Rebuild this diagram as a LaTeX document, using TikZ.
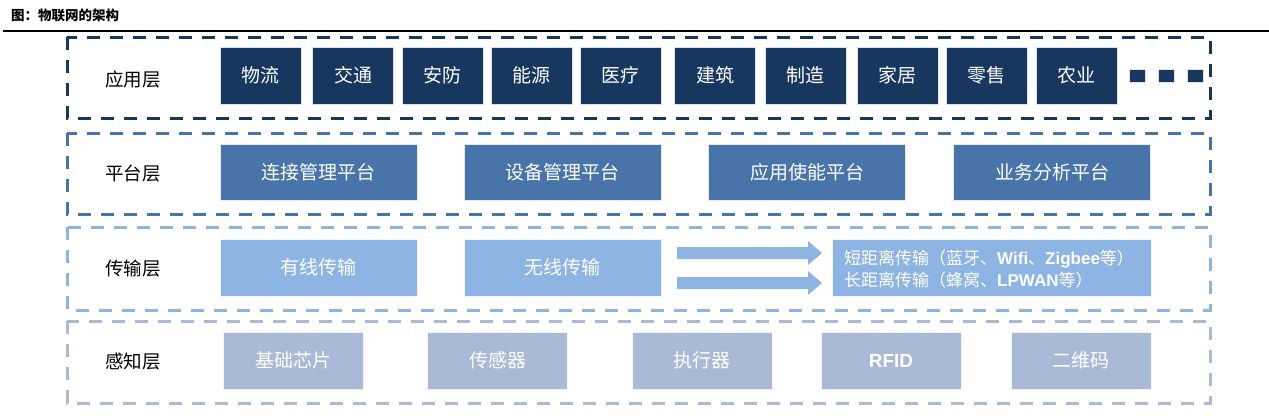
\documentclass[tikz,border=0pt]{standalone}
\usepackage{fontspec}
\setmainfont{Liberation Sans}
\newfontfamily\cjk{Noto Sans CJK SC}
\newfontfamily\lat{Liberation Sans}
\definecolor{cdark}{RGB}{23,55,94}
\definecolor{cmid}{RGB}{72,116,170}
\definecolor{clight}{RGB}{142,180,227}
\definecolor{cgray}{RGB}{169,185,214}
\tikzset{
  layerbox/.style={draw=#1, line width=3pt, dash pattern=on 13pt off 10pt},
  itembox/.style={fill=#1, draw=white!85!#1, line width=0.6pt, inner sep=0pt, text=white,
     font=\cjk\fontsize{19}{22}\selectfont},
  layerlabel/.style={font=\cjk\fontsize{18.5}{22}\selectfont, text=black, inner sep=0pt},
}
\begin{document}
\begin{tikzpicture}[x=1pt,y=-1pt]
\useasboundingbox (0,0) rectangle (1269,415);
% title
\node[anchor=west, inner sep=0pt, font=\cjk\bfseries\fontsize{13.5}{15}\selectfont] (title) at (11,15) {图：物联网的架构};
\draw[line width=2pt, black] (3,31) coordinate (ruleL) -- (1269,31) coordinate (ruleR);

% layer frames
\draw[layerbox=cdark] (67,37) rectangle (1210,118);
\draw[layerbox=cmid] (67,133) rectangle (1210,214);
\draw[layerbox=clight] (67,227) rectangle (1210,310);
\draw[layerbox=cgray] (67,321) rectangle (1210,403);

% layer labels
\node[layerlabel] (l1) at (133,79) {应用层};
\node[layerlabel] (l2) at (133,174) {平台层};
\node[layerlabel] (l3) at (133,269) {传输层};
\node[layerlabel] (l4) at (133,362) {感知层};

% application layer
\tikzset{a/.style={itembox=cdark, minimum width=81pt, minimum height=57pt}}
\node[a] (a1) at (260.5,75.5) {物流};
\node[a] (a2) at (353,75.5) {交通};
\node[a] (a3) at (442.5,75.5) {安防};
\node[a] (a4) at (531.5,75.5) {能源};
\node[a] (a5) at (620.5,75.5) {医疗};
\node[a] (a6) at (715,75.5) {建筑};
\node[a] (a7) at (805.5,75.5) {制造};
\node[a] (a8) at (897.5,75.5) {家居};
\node[a] (a9) at (986.5,75.5) {零售};
\node[a] (a10) at (1076.5,75.5) {农业};
\tikzset{sq/.style={fill=cdark, draw=white!85!cdark, line width=0.5pt, minimum width=16pt, minimum height=13pt, inner sep=0pt}}
\node[sq] (s1) at (1137,76) {};
\node[sq] (s2) at (1166,76) {};
\node[sq] (s3) at (1195.5,76) {};

% platform layer
\tikzset{p/.style={itembox=cmid, minimum width=197pt, minimum height=56pt}}
\node[p] (p1) at (318.5,172) {连接管理平台};
\node[p] (p2) at (562.5,172) {设备管理平台};
\node[p] (p3) at (807,172) {应用使能平台};
\node[p] (p4) at (1052,172) {业务分析平台};

% transport layer
\tikzset{t/.style={itembox=clight, minimum width=197pt, minimum height=57pt}}
\node[t] (t1) at (318.5,267.5) {有线传输};
\node[t] (t2) at (562.5,267.5) {无线传输};
\node[itembox=clight, minimum width=319pt, minimum height=57pt] (t3) at (991.5,267.5) {};
\node[anchor=west, align=left, inner sep=0pt, text=white, font=\cjk\fontsize{17}{22}\selectfont] (t3txt) at (844,269)
  {短距离传输（蓝牙、{\lat\bfseries Wifi}、{\lat\bfseries Zigbee}等）\\长距离传输（蜂窝、{\lat\bfseries LPWAN}等）};
% block arrows
\fill[clight] (677,247) -- (808,247) -- (808,241) -- (822,253) -- (808,265) -- (808,259) -- (677,259) -- cycle;
\fill[clight] (677,277) -- (808,277) -- (808,271) -- (822,283) -- (808,295) -- (808,289) -- (677,289) -- cycle;

% perception layer
\tikzset{g/.style={itembox=cgray, minimum width=140pt, minimum height=57pt}}
\node[g] (g1) at (293,360.5) {基础芯片};
\node[g] (g2) at (497.5,360.5) {传感器};
\node[g] (g3) at (702,360.5) {执行器};
\node[g, font=\lat\bfseries\fontsize{19}{22}\selectfont] (g4) at (891,360.5) {RFID};
\node[g] (g5) at (1081,360.5) {二维码};
\end{tikzpicture}
\end{document}
